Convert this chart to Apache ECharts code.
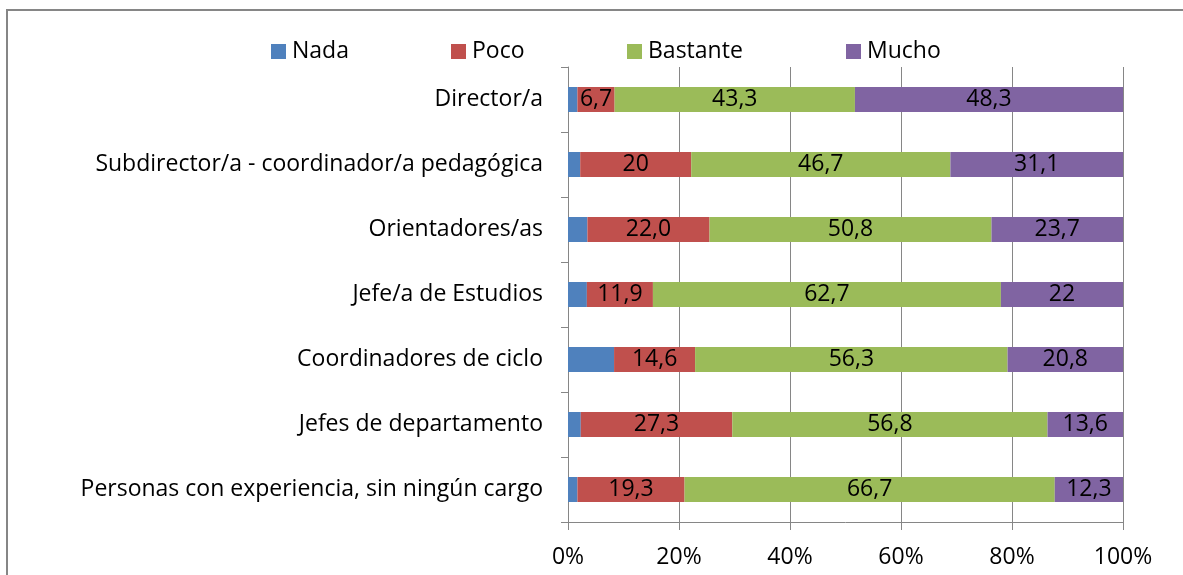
<!DOCTYPE html>
<html>
<head>
<meta charset="utf-8" />
<title>Cargos</title>
<script src="https://cdn.jsdelivr.net/npm/echarts@6.0.0/dist/echarts.min.js"></script>
<style>
body { margin: 0; background: #fff; }
</style>
</head>
<body>
<div id="main" style="width: 1183px;height:575px;"></div>
<script type="text/javascript">
var categories = ['Director/a', 'Subdirector/a - coordinador/a pedagógica', 'Orientadores/as',
  'Jefe/a de Estudios', 'Coordinadores de ciclo', 'Jefes de departamento',
  'Personas con experiencia, sin ningún cargo'];
var nada = [1.7, 2.2, 3.5, 3.4, 8.3, 2.3, 1.7];
var poco = [6.7, 20, 22.0, 11.9, 14.6, 27.3, 19.3];
var bastante = [43.3, 46.7, 50.8, 62.7, 56.3, 56.8, 66.7];
var mucho = [48.3, 31.1, 23.7, 22, 20.8, 13.6, 12.3];
// etiquetas tal como aparecen en el gráfico
var pocoText = ['6,7', '20', '22,0', '11,9', '14,6', '27,3', '19,3'];
var bastanteText = ['43,3', '46,7', '50,8', '62,7', '56,3', '56,8', '66,7'];
var muchoText = ['48,3', '31,1', '23,7', '22', '20,8', '13,6', '12,3'];
var xTicks = ['0%', '20%', '40%', '60%', '80%', '100%'];

var FONT = 'Open Sans';
var FS = 23;
var GRAY = '#868686';

var myChart = echarts.init(document.getElementById('main'));

function makeSeries(name, data, texts, color) {
  return {
    name: name,
    type: 'bar',
    stack: 'total',
    barWidth: 25,
    data: data,
    itemStyle: { color: color },
    label: {
      show: !!texts,
      position: 'inside',
      color: '#000',
      fontFamily: FONT,
      fontSize: FS,
      formatter: function (p) { return texts ? texts[p.dataIndex] : ''; }
    }
  };
}

function makeLegend(name, left) {
  return {
    data: [name],
    left: left,
    top: 35,
    itemWidth: 15,
    itemHeight: 15,
    icon: 'rect',
    itemGap: 6,
    textStyle: { fontFamily: FONT, fontSize: FS, color: '#000', padding: [0, 0, 0, 1] }
  };
}

var option = {
  animation: false,
  backgroundColor: '#fff',
  graphic: [{
    type: 'rect',
    shape: { x: 7, y: 10, width: 1400, height: 800 },
    style: { fill: 'none', stroke: GRAY, lineWidth: 2 }
  }],
  legend: [
    makeLegend('Nada', 266),
    makeLegend('Poco', 446),
    makeLegend('Bastante', 622),
    makeLegend('Mucho', 841)
  ],
  grid: { left: 568, right: 60, top: 67, bottom: 53 },
  xAxis: {
    type: 'value',
    min: 0,
    max: 100,
    interval: 20,
    axisLine: { show: true, lineStyle: { color: GRAY } },
    axisTick: { show: true, length: 8, lineStyle: { color: GRAY } },
    splitLine: { show: true, lineStyle: { color: GRAY } },
    axisLabel: {
      margin: 24,
      color: '#000',
      fontFamily: FONT,
      fontSize: FS,
      formatter: function (v) { return xTicks[Math.round(v / 20)]; }
    }
  },
  yAxis: {
    type: 'category',
    inverse: true,
    data: categories,
    axisLine: { show: true, lineStyle: { color: GRAY } },
    axisTick: { show: true, length: 7, lineStyle: { color: GRAY } },
    axisLabel: { margin: 25, color: '#000', fontFamily: FONT, fontSize: FS }
  },
  series: [
    makeSeries('Nada', nada, null, '#4F81BD'),
    makeSeries('Poco', poco, pocoText, '#C0504D'),
    makeSeries('Bastante', bastante, bastanteText, '#9BBB59'),
    makeSeries('Mucho', mucho, muchoText, '#8064A2')
  ]
};

myChart.setOption(option);
</script>
</body>
</html>
